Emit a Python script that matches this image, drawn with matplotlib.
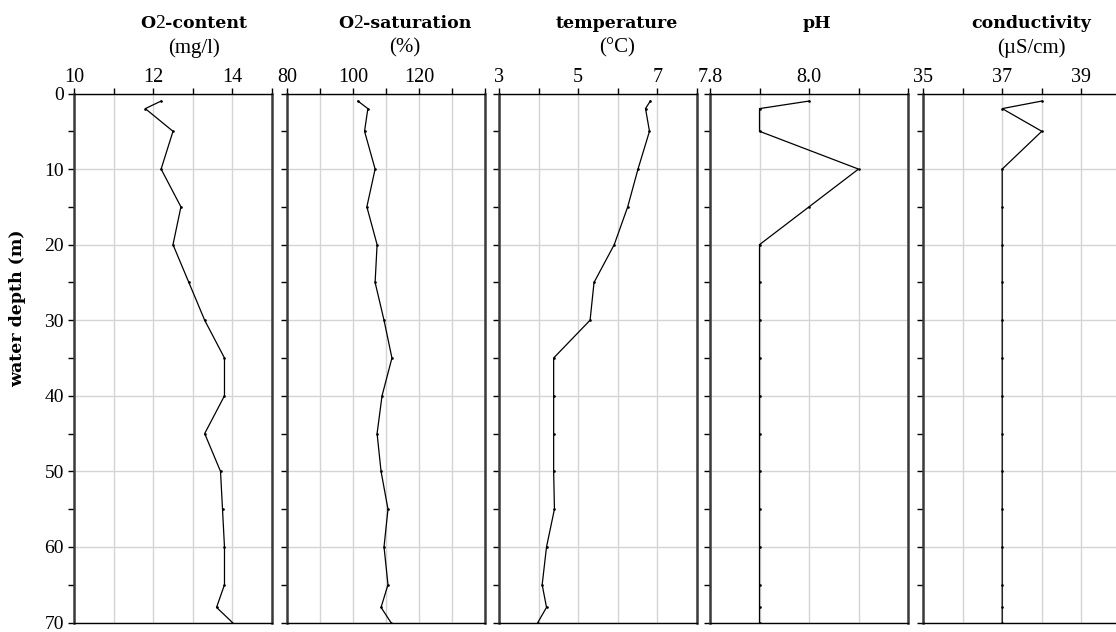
import matplotlib
matplotlib.use("Agg")
import matplotlib.pyplot as plt
from matplotlib.offsetbox import TextArea, HPacker, AnnotationBbox

# Depth profile measurements (m) and the five parameters
depth = [1, 2, 5, 10, 15, 20, 25, 30, 35, 40, 45, 50, 55, 60, 65, 68, 70]
o2_content = [12.2, 11.8, 12.5, 12.2, 12.7, 12.5, 12.9, 13.3, 13.8, 13.8,
              13.3, 13.7, 13.75, 13.8, 13.8, 13.6, 14.0]
o2_saturation = [101.5, 104.5, 103.5, 106.7, 104.2, 107.3, 106.7, 109.4, 111.8,
                 108.8, 107.3, 108.5, 110.6, 109.4, 110.6, 108.5, 111.5]
temperature = [6.82, 6.70, 6.80, 6.51, 6.25, 5.91, 5.40, 5.30, 4.38, 4.38,
               4.38, 4.38, 4.40, 4.20, 4.09, 4.20, 3.98]
ph = [8.0, 7.9, 7.9, 8.1, 8.0, 7.9, 7.9, 7.9, 7.9, 7.9, 7.9, 7.9, 7.9, 7.9,
      7.9, 7.9, 7.9]
conductivity = [38, 37, 38, 37, 37, 37, 37, 37, 37, 37, 37, 37, 37, 37, 37,
                37, 37]

series = [o2_content, o2_saturation, temperature, ph, conductivity]
titles = [("O", "2", "-content"), ("O", "2", "-saturation"),
          ("temperature", "", ""), ("pH", "", ""), ("conductivity", "", "")]
units = ["(mg/l)", "(%)", "(°C)", "", "(µS/cm)"]
xlims = [(10, 15), (80, 140), (3, 8), (7.8, 8.2), (35, 40)]
major_x = [[10, 12, 14], [80, 100, 120], [3, 5, 7], [7.8, 8.0], [35, 37, 39]]
major_x_labels = [["10", "12", "14"], ["80", "100", "120"], ["3", "5", "7"],
                  ["7.8", "8.0"], ["35", "37", "39"]]
minor_x = [[11, 13, 15], [90, 110, 130, 140], [4, 6, 8], [7.9, 8.1, 8.2],
           [36, 38, 40]]
depth_major = [0, 10, 20, 30, 40, 50, 60, 70]
depth_minor = [5, 15, 25, 35, 45, 55, 65]

W, H = 1116, 632
fig = plt.figure(figsize=(W / 100, H / 100), dpi=100)
fig.patch.set_facecolor("white")

serif = "Liberation Serif"
bold_family = "DejaVu Serif"

panel_left = [74, 287, 499, 710, 923]
panel_w = 198
top_px, bot_px = 93.5, 622.5
title_cx = [194, 405, 617, 817, 1031]

grid_c = "#d4d4d4"
for i, vals in enumerate(series):
    ax = fig.add_axes([panel_left[i] / W, 1 - bot_px / H,
                       panel_w / W, (bot_px - top_px) / H])
    ax.plot(vals, depth, color="black", lw=0.9, marker="o", ms=0.9,
            solid_joinstyle="miter")
    ax.set_xlim(*xlims[i])
    ax.set_ylim(70, 0)

    ax.xaxis.tick_top()
    ax.set_xticks(major_x[i])
    ax.set_xticklabels(major_x_labels[i], fontfamily=serif, fontsize=14.5)
    ax.set_xticks(minor_x[i], minor=True)
    ax.set_yticks(depth_major)
    ax.set_yticks(depth_minor, minor=True)
    if i == 0:
        ax.set_yticklabels([str(d) for d in depth_major], fontfamily=serif,
                           fontsize=14)
    else:
        ax.set_yticklabels([])

    ax.tick_params(which="both", direction="out", length=4.3, width=1.0,
                   color="black")
    ax.tick_params(axis="x", which="both", pad=0.5)
    ax.tick_params(axis="y", which="both", pad=3)

    ax.grid(True, axis="x", which="both", color=grid_c, lw=1.0)
    ax.grid(True, axis="y", which="major", color=grid_c, lw=1.0)
    ax.set_axisbelow(True)

    for side in ("left", "right"):
        ax.spines[side].set_linewidth(1.8)
        ax.spines[side].set_color("#3a3a3a")
    for side in ("top", "bottom"):
        ax.spines[side].set_linewidth(1.0)
        ax.spines[side].set_color("black")

    # Panel heading: bold name, with a regular-weight "2" in the O2 labels
    main, sub, rest = titles[i]
    parts = [TextArea(main, textprops=dict(fontfamily=bold_family,
                                           fontweight="bold", fontsize=12.5))]
    if sub:
        parts.append(TextArea(sub, textprops=dict(fontfamily=serif,
                                                  fontsize=14)))
        parts.append(TextArea(rest, textprops=dict(fontfamily=bold_family,
                                                   fontweight="bold",
                                                   fontsize=12.5)))
    packer = HPacker(children=parts, align="baseline", pad=0, sep=0)
    ab = AnnotationBbox(packer, (title_cx[i] / W, 1 - 23 / H),
                        xycoords="figure fraction", frameon=False,
                        box_alignment=(0.5, 0.5), pad=0)
    fig.add_artist(ab)
    if units[i]:
        fig.text(title_cx[i] / W, 1 - 48 / H, units[i], fontfamily=serif,
                 fontsize=15, ha="center", va="center")

fig.text(18 / W, 1 - 308 / H, "water depth (m)", rotation=90,
         fontfamily=bold_family, fontweight="bold", fontsize=12.5,
         ha="center", va="center")

fig.savefig("out.png", dpi=100)
